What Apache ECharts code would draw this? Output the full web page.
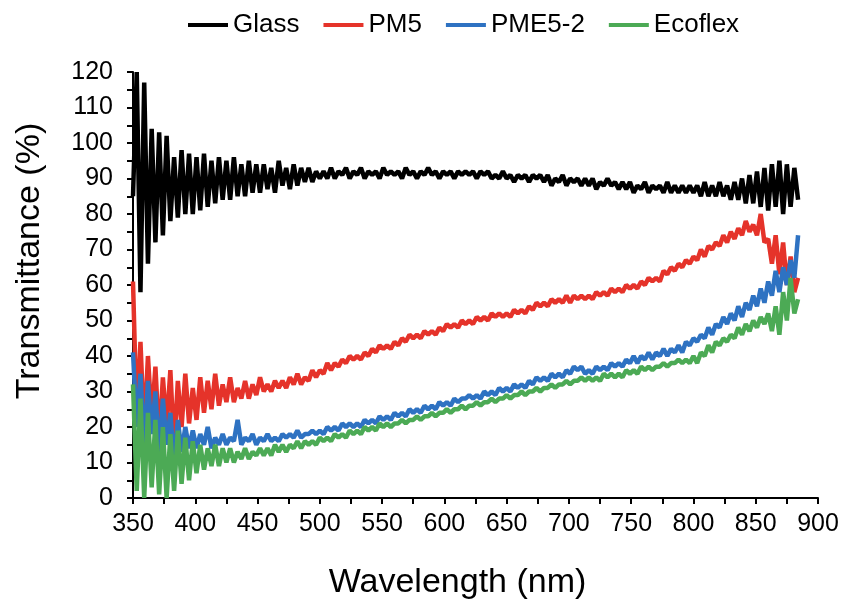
<!DOCTYPE html>
<html>
<head>
<meta charset="utf-8">
<title>Transmittance</title>
<script src="https://cdn.jsdelivr.net/npm/echarts@6/dist/echarts.min.js"></script>
<style>
  html, body { margin: 0; padding: 0; background: #fff; }
  #chart { width: 847px; height: 607px; }
</style>
</head>
<body>
<div id="chart"></div>
<script>
'use strict';

// wavelength (nm), 3 nm step
var wavelengths = [
    350,353,356,359,362,365,368,371,374,377,
    380,383,386,389,392,395,398,401,404,407,
    410,413,416,419,422,425,428,431,434,437,
    440,443,446,449,452,455,458,461,464,467,
    470,473,476,479,482,485,488,491,494,497,
    500,503,506,509,512,515,518,521,524,527,
    530,533,536,539,542,545,548,551,554,557,
    560,563,566,569,572,575,578,581,584,587,
    590,593,596,599,602,605,608,611,614,617,
    620,623,626,629,632,635,638,641,644,647,
    650,653,656,659,662,665,668,671,674,677,
    680,683,686,689,692,695,698,701,704,707,
    710,713,716,719,722,725,728,731,734,737,
    740,743,746,749,752,755,758,761,764,767,
    770,773,776,779,782,785,788,791,794,797,
    800,803,806,809,812,815,818,821,824,827,
    830,833,836,839,842,845,848,851,854,857,
    860,863,866,869,872,875,878,881,884
];

var glass = [
    85,120,58,117,66,104,72,103,74,102,
    78,96,79,98,80,97,80,96,81,97,
    82,95,83,96,84,95,84,96,85,94,
    85,95,86,94,86,94,87,93,86,95,
    88,93,87,94,88,93,89,93,89,92,
    90,92,90,93,90,92,91,93,90,92,
    91,93,90,92,91,92,90,93,91,92,
    91,92,90,93,91,92,90,92,91,93,
    91,92,90,92,91,92,90,92,91,92,
    91,92,90,92,91,92,90,91,90,92,
    90,91,89,91,90,91,89,91,90,91,
    89,91,88,90,89,91,88,90,89,90,
    88,90,88,90,87,89,88,90,88,89,
    87,89,87,89,86,88,87,89,86,88,
    87,88,86,89,86,88,86,88,86,88,
    86,88,85,89,85,88,85,89,85,88,
    84,89,84,90,83,91,83,92,82,93,
    81,94,82,95,80,94,82,93,84
];

var pm5 = [
    61,22,44,18,40,22,37,16,34,20,
    36,14,33,20,35,21,31,22,34,24,
    33,25,35,26,32,27,34,27,31,28,
    33,28,32,29,34,30,32,30,33,31,
    33,31,34,32,35,32,34,33,36,34,
    36,35,38,36,38,37,39,38,40,39,
    40,39,41,40,42,41,43,42,43,42,
    44,43,45,44,46,45,46,45,47,46,
    47,46,48,47,49,48,49,48,50,49,
    50,49,51,50,51,50,52,51,52,51,
    52,51,53,52,53,52,54,53,55,54,
    55,54,56,55,56,55,57,55,57,56,
    57,56,57,56,58,57,58,57,59,58,
    59,58,60,59,60,59,61,60,62,61,
    62,61,64,63,65,64,66,65,67,66,
    68,67,70,68,71,70,72,71,74,72,
    75,73,76,74,78,75,77,74,80,72,
    73,66,74,63,72,60,68,58,62
];

var pme52 = [
    41,20,35,14,33,18,30,12,28,15,
    24,10,22,13,20,14,19,14,18,15,
    20,14,17,15,18,15,17,16,22,15,
    17,16,18,15,17,16,18,16,17,16,
    18,17,18,17,19,17,18,18,19,18,
    19,18,20,19,20,19,21,20,21,20,
    21,20,22,21,22,21,23,22,23,22,
    24,23,24,23,25,24,25,24,26,25,
    26,25,27,26,27,26,28,27,28,28,
    29,28,29,28,30,29,30,29,31,30,
    31,30,32,31,32,31,33,32,34,33,
    34,33,35,34,35,34,36,35,37,36,
    37,35,36,35,37,36,37,36,38,37,
    38,37,39,38,40,38,40,39,41,39,
    41,40,42,40,42,41,43,41,44,43,
    45,44,46,45,48,46,49,48,51,49,
    52,50,54,51,55,53,57,54,59,55,
    61,57,64,58,65,60,67,62,74
];

var ecoflex = [
    32,2,28,0,24,3,22,1,20,0,
    18,2,19,4,17,5,16,7,15,8,
    14,9,15,9,14,10,14,10,13,11,
    14,11,13,12,14,12,14,12,15,13,
    15,13,15,14,16,14,16,15,16,15,
    17,16,17,16,18,17,18,17,19,18,
    19,18,20,19,20,19,21,20,21,20,
    21,21,22,21,22,22,23,22,23,23,
    24,23,24,24,25,24,25,25,26,25,
    26,26,27,26,27,27,28,27,28,28,
    29,28,29,29,30,29,30,30,31,30,
    31,31,32,31,32,32,33,32,33,33,
    34,33,34,33,34,33,35,34,35,34,
    35,34,36,35,36,35,37,36,37,36,
    37,37,38,37,38,38,39,38,39,38,
    40,38,41,40,43,41,44,43,45,44,
    46,45,48,46,49,47,50,48,51,49,
    52,47,54,46,58,50,62,52,56
];

var seriesNames = ['Glass', 'PM5', 'PME5-2', 'Ecoflex'];
var seriesColors = ['#000000', '#e5332a', '#2e72c2', '#4caa55'];
var seriesValues = [glass, pm5, pme52, ecoflex];

function pairs(values) {
    return wavelengths.map(function (w, i) { return [w, values[i]]; });
}

var font = '"Liberation Sans", Arial, Helvetica, sans-serif';

var chart = echarts.init(document.getElementById('chart'), null, { renderer: 'canvas' });
chart.setOption({
    animation: false,
    backgroundColor: '#ffffff',
    textStyle: { fontFamily: font },
    legend: {
        top: 7,
        left: 183,
        icon: 'rect',
        itemWidth: 40,
        itemHeight: 4,
        itemGap: 24,
        textStyle: { fontSize: 26, color: '#000', fontFamily: font },
        data: seriesNames
    },
    grid: {
        left: 133,
        right: 29,
        top: 72,
        bottom: 109,
        containLabel: false
    },
    xAxis: {
        type: 'value',
        min: 350,
        max: 900,
        interval: 50,
        name: 'Wavelength (nm)',
        nameLocation: 'middle',
        nameGap: 68,
        nameTextStyle: { fontSize: 34, color: '#000', fontFamily: font, padding: [0, 36, 0, 0] },
        axisLine: { lineStyle: { color: '#000', width: 2 } },
        axisTick: { show: true, length: 6, lineStyle: { color: '#000', width: 2 } },
        minorTick: { show: true, splitNumber: 2, length: 6, lineStyle: { color: '#000', width: 2 } },
        axisLabel: { fontSize: 25, color: '#000', margin: 14, fontFamily: font },
        splitLine: { show: false }
    },
    yAxis: {
        type: 'value',
        min: 0,
        max: 120,
        interval: 10,
        name: 'Transmittance (%)',
        nameLocation: 'middle',
        nameGap: 86,
        nameTextStyle: { fontSize: 34, color: '#000', fontFamily: font, padding: [0, 0, 0, 48] },
        axisLine: { show: true, lineStyle: { color: '#000', width: 2 } },
        axisTick: { show: true, length: 6, lineStyle: { color: '#000', width: 2 } },
        minorTick: { show: true, splitNumber: 2, length: 6, lineStyle: { color: '#000', width: 2 } },
        axisLabel: { fontSize: 25, color: '#000', margin: 20, fontFamily: font },
        splitLine: { show: false }
    },
    series: seriesNames.map(function (name, k) {
        return {
            name: name,
            type: 'line',
            symbol: 'none',
            data: pairs(seriesValues[k]),
            itemStyle: { color: seriesColors[k] },
            lineStyle: { color: seriesColors[k], width: 4.5 },
            z: 2 + k
        };
    })
});
</script>
</body>
</html>
